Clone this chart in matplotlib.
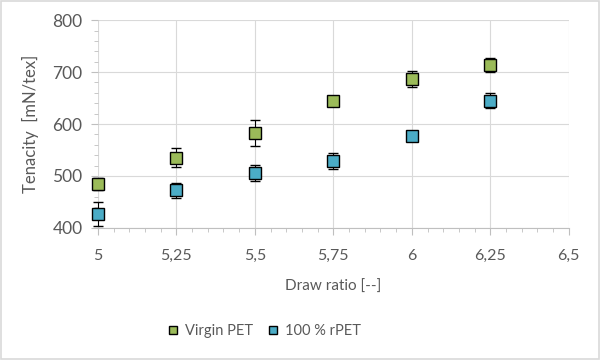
import matplotlib

matplotlib.use("Agg")

import matplotlib.pyplot as plt
from matplotlib.patches import Rectangle
from matplotlib.ticker import FuncFormatter, MultipleLocator

draw_ratio = [5.0, 5.25, 5.5, 5.75, 6.0, 6.25]
virgin_pet = [484, 535, 583, 645, 687, 714]
virgin_err = [12, 18, 25, 4, 16, 13]
rpet = [426, 472, 506, 529, 577, 645]
rpet_err = [23, 15, 16, 16, 4, 14]

series_names = ["Virgin PET", "100 % rPET"]
x_label = "Draw ratio [--]"
y_label = "Tenacity  [mN/tex]"

plt.rcParams["font.family"] = ["Lato", "DejaVu Sans"]
text_grey = "#595959"
grid_grey = "#d9d9d9"

fig = plt.figure(figsize=(6, 3.6), dpi=100)
ax = fig.add_axes([0.163, 0.367, 0.785, 0.577])

for y, err, colour, name in [
    (virgin_pet, virgin_err, "#9bbb59", series_names[0]),
    (rpet, rpet_err, "#4bacc6", series_names[1]),
]:
    cont = ax.errorbar(
        draw_ratio, y, yerr=err, fmt="s", color=colour, mec="black", mew=1.0,
        ms=8.5, ecolor="black", elinewidth=0.8, capsize=3.5, capthick=0.8,
        label=name, zorder=3,
    )
    for artist in cont.get_children():
        artist.set_clip_on(False)

ax.set_xlim(5, 6.5)
ax.set_ylim(400, 800)
ax.xaxis.set_major_locator(MultipleLocator(0.25))
ax.xaxis.set_minor_locator(MultipleLocator(0.05))
ax.yaxis.set_major_locator(MultipleLocator(100))
ax.yaxis.set_minor_locator(MultipleLocator(20))
ax.xaxis.set_major_formatter(FuncFormatter(lambda v, _: f"{v:g}".replace(".", ",")))

ax.grid(True, which="major", color=grid_grey, lw=0.8, zorder=0)
for side in ["top", "right", "left"]:
    ax.spines[side].set_visible(False)
ax.spines["bottom"].set_color("#bfbfbf")
ax.tick_params(which="both", colors="#bfbfbf", labelcolor=text_grey)
ax.tick_params(which="major", length=5)
ax.tick_params(which="minor", length=3)
ax.tick_params(axis="x", labelsize=11.5, pad=10)
ax.tick_params(axis="y", labelsize=12.5, pad=6)

ax.set_xlabel(x_label, color=text_grey, fontsize=11, labelpad=12)
ax.set_ylabel(y_label, color=text_grey, fontsize=12, labelpad=10)

handles, labels = ax.get_legend_handles_labels()
handles = [h[0] for h in handles]
fig.legend(
    handles, labels, loc="center", bbox_to_anchor=(0.44, 0.08), ncol=2,
    frameon=False, fontsize=10.5, labelcolor=text_grey, handlelength=0.8,
    handletextpad=0.4, columnspacing=1.0, markerscale=0.75,
)

fig.patches.append(Rectangle((0.002, 0.003), 0.996, 0.994, transform=fig.transFigure,
                             fill=False, edgecolor="#d9d9d9", lw=1.2))

fig.savefig("out.png")
